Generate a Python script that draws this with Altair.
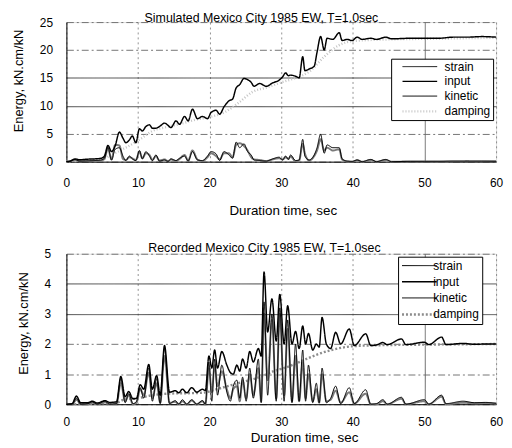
import altair as alt
import pandas as pd

FONT = "Liberation Sans"
SERIES = ["strain", "input", "kinetic", "damping"]

# ---------------- Top panel: Simulated record ----------------
top_t = [0, 0.5, 1.2, 1.8, 3.0, 4.0, 4.8, 5.3, 5.8, 6.3,
         6.8, 7.4, 7.9, 8.3, 8.8, 9.2, 9.7, 10.2, 10.6, 11.1,
         11.6, 12.0, 12.5, 13.0, 13.7, 14.2, 14.6, 15.3, 15.8, 16.5,
         17.0, 17.6, 18.3, 19.0, 19.7, 20.2, 20.9, 21.4, 22.0, 22.7,
         23.2, 23.7, 24.2, 24.8, 25.3, 25.8, 26.2, 27.0, 27.9, 28.8,
         29.7, 30.2, 30.6, 31.0, 31.3, 32.0, 32.5, 33.0, 33.3, 33.9,
         34.6, 35.0, 35.5, 36.0, 36.4, 37.2, 38.1, 38.5, 39.2, 39.9,
         40.6, 41.3, 42.5, 43.3, 44.6, 45.4, 48.0, 50.0, 52.0, 54.0,
         56.0, 58.0, 60.0]
top_input = [0, 0.1, 0.5, 0.35, 0.45, 0.5, 0.6, 1.0, 2.9, 1.8,
             2.8, 5.3, 4.2, 3.4, 3.9, 4.6, 3.4, 5.9, 5.5, 6.3,
             6.6, 6.0, 6.0, 6.3, 6.9, 6.5, 6.1, 7.3, 6.7, 8.1,
             7.3, 9.4, 7.7, 8.1, 7.7, 8.8, 9.2, 8.5, 9.8, 10.9,
             11.2, 13.2, 13.8, 14.9, 14.7, 14.2, 13.5, 14.0, 13.5, 14.1,
             14.6, 15.2, 15.9, 15.4, 15.5, 15.3, 15.0, 18.8, 16.3, 16.6,
             17.1, 19.6, 22.4, 20.0, 22.1, 21.9, 23.1, 21.7, 21.9, 21.7,
             22.3, 21.9, 22.1, 21.9, 22.3, 22.0, 22.1, 22.1, 22.1, 22.3,
             22.3, 22.4, 22.3]
top_strain = [0, 0.05, 0.4, 0.1, 0.15, 0.2, 0.3, 0.6, 2.6, 0.3,
              2.2, 2.5, 1.0, 0.2, 1.0, 0.5, 0.2, 2.0, 0.5, 1.8,
              1.0, 0.2, 1.2, 0.1, 0.3, 0.05, 0.5, 0.2, 0.6, 1.0,
              0.1, 1.8, 0.3, 0.2, 1.0, 1.8, 1.4, 0.2, 1.8, 1.2,
              0.6, 3.5, 2.5, 3.2, 1.8, 1.2, 0.3, 0.2, 0.1, 0.5,
              0.8, 0.3, 1.0, 0.4, 1.2, 0.2, 0.3, 4.0, 1.0, 0.3,
              1.2, 2.5, 4.9, 1.5, 3.0, 2.5, 2.5, 0.5, 0.1, 0.05,
              0.3, 0, 0.4, 0, 0.4, 0, 0.05, 0.05, 0.05, 0.1,
              0.1, 0.1, 0.08]
top_kinetic = [0, 0.05, 0.3, 0.1, 0.1, 0.15, 0.2, 0.5, 2.3, 0.4,
               3.0, 2.9, 0.5, 0.3, 0.8, 0.6, 0.3, 1.8, 0.6, 1.5,
               1.2, 0.3, 1.0, 0.2, 0.4, 0.1, 0.4, 0.1, 0.5, 1.2,
               0.2, 2.0, 0.4, 0.1, 0.8, 1.5, 1.0, 0.4, 1.5, 1.5,
               0.8, 3.0, 3.3, 2.8, 2.0, 0.8, 0.4, 0.3, 0.1, 0.4,
               0.6, 0.4, 0.8, 0.5, 0.9, 0.1, 0.2, 3.2, 1.5, 0.2,
               1.0, 2.0, 4.0, 2.0, 2.5, 2.0, 2.2, 0.4, 0.05, 0,
               0.25, 0, 0.3, 0, 0.3, 0, 0.03, 0.04, 0.03, 0.05,
               0.06, 0.05, 0.05]
top_damp_t = [0, 2, 5, 6, 7.5, 9, 10.5, 12, 14, 16, 18, 20, 22, 24, 26,
              28, 30, 32, 34, 36, 38, 40, 45, 50, 60]
top_damp = [0, 0.2, 0.4, 1.0, 2.0, 3.0, 4.2, 5.5, 6.2, 6.8, 7.5, 8.0, 8.8,
            10.5, 12.5, 13.3, 14.2, 15.0, 16.2, 18.8, 20.8, 21.6, 21.9,
            22.0, 22.2]

# ---------------- Bottom panel: Recorded record ----------------
bot_t = [0, 0.8, 1.4, 2.0, 3.0, 3.6, 4.3, 5.4, 6.0, 7.0,
         7.6, 8.2, 8.7, 9.3, 9.8, 10.3, 10.8, 11.5, 12.0, 12.6,
         13.1, 13.7, 14.4, 15.2, 15.7, 16.2, 16.8, 17.5, 18.2, 19.0,
         19.4, 19.9, 20.3, 20.7, 21.1, 21.7, 22.4, 22.9, 23.3, 23.8,
         24.2, 24.6, 25.1, 25.6, 26.1, 26.8, 27.2, 27.6, 28.1, 28.7,
         29.3, 29.8, 30.4, 30.9, 31.5, 32.0, 32.5, 33.0, 33.4, 33.8,
         34.4, 34.9, 35.3, 35.7, 36.3, 36.9, 37.6, 38.3, 39.5, 40.2,
         41.8, 42.5, 43.3, 44.2, 44.8, 46.8, 47.4, 50.0, 50.6, 52.4,
         53.0, 55.4, 57.0, 58.5, 60.0]
bot_input = [0, 0.02, 0.27, 0.05, 0.05, 0.1, 0.04, 0.12, 0.06, 0.08,
             0.92, 0.25, 0.42, 0.18, 0.2, 0.65, 0.5, 1.32, 0.5, 0.95,
             0.3, 1.95, 0.4, 0.45, 0.38, 0.5, 0.38, 0.55, 0.4, 0.5,
             0.45, 1.6, 1.2, 1.8, 1.2, 1.75, 1.3, 1.05, 1.0, 1.3,
             1.1, 1.5, 1.2, 1.75, 1.4, 1.85, 1.6, 4.39, 2.4, 3.5,
             2.1, 3.65, 2.0, 3.27, 2.0, 2.42, 1.85, 2.6, 2.0, 2.35,
             1.8, 2.0, 1.9, 2.88, 2.0, 1.85, 2.39, 2.0, 2.5, 1.95,
             2.34, 1.95, 1.97, 2.05, 1.98, 2.17, 1.98, 2.06, 1.98, 2.23,
             1.98, 2.02, 1.99, 2.0, 2.0]
bot_strain = [0, 0, 0.2, 0, 0.02, 0.08, 0, 0.1, 0, 0.02,
              0.85, 0.05, 0.35, 0.02, 0.1, 0.55, 0.2, 1.2, 0.1, 0.85,
              0.02, 1.85, 0.02, 0.12, 0, 0.15, 0, 0.15, 0, 0.12,
              0, 1.4, 0.1, 1.5, 0.3, 1.3, 0.4, 0.1, 0.6, 0.8,
              0.2, 0.9, 0.1, 1.2, 0.2, 1.5, 0.05, 3.4, 0.3, 3.0,
              0.1, 3.2, 0.1, 2.8, 0.05, 2.0, 0.1, 1.8, 0.1, 1.3,
              0.05, 0.7, 0.05, 1.2, 0.05, 0.2, 0.6, 0.02, 0.55, 0.02,
              0.48, 0, 0.02, 0.15, 0, 0.23, 0, 0.15, 0, 0.3,
              0.02, 0.1, 0.05, 0.06, 0.03]
bot_kinetic = [0, 0, 0.15, 0, 0, 0.05, 0, 0.06, 0, 0.02,
               0.7, 0.1, 0.3, 0, 0.05, 0.5, 0.3, 1.05, 0.2, 0.7,
               0.05, 1.6, 0.05, 0.08, 0, 0.1, 0, 0.12, 0, 0.1,
               0, 1.2, 0.4, 1.3, 0.6, 1.1, 0.5, 0.2, 0.5, 0.6,
               0.1, 0.8, 0.2, 1.0, 0.3, 1.2, 0.1, 3.0, 0.8, 2.8,
               0.2, 3.0, 0.3, 2.5, 0.1, 1.6, 0.1, 1.4, 0.2, 1.0,
               0.1, 0.5, 0.05, 1.0, 0.1, 0.15, 0.45, 0.05, 0.4, 0.02,
               0.35, 0, 0, 0.1, 0, 0.18, 0, 0.1, 0, 0.25,
               0, 0.05, 0.03, 0.04, 0.02]
bot_damp_t = [0, 7, 8, 10, 12, 14, 19, 21, 24, 27, 29, 31, 33, 35, 37, 39,
              42, 50, 60]
bot_damp = [0, 0.05, 0.15, 0.2, 0.3, 0.35, 0.38, 0.5, 0.7, 0.9, 1.1, 1.25,
            1.45, 1.65, 1.8, 1.9, 1.95, 1.98, 2.0]

x_ticks = [0, 10, 20, 30, 40, 50, 60]
top_y_ticks = [0, 5, 10, 15, 20, 25]
bot_y_ticks = [0, 1, 2, 3, 4, 5]


def make_df(t, inp, strain, kin, dt, damp):
    frames = []
    for name, ts, vs in (("damping", dt, damp), ("kinetic", t, kin),
                         ("strain", t, strain), ("input", t, inp)):
        frames.append(pd.DataFrame({"t": ts, "E": vs, "series": name}))
    return pd.concat(frames, ignore_index=True)


def panel(df, title, title_dx, title_off, ymax, yticks, w, h, lg, damp_color,
          damp_dash, solid_test, x_title_x, y_title_y, x_lab_pad, x_title_pad,
          y_lab_pad, y_title_pad):
    legend = alt.Legend(orient="none", legendX=lg["x"], legendY=lg["y"], title=None,
                        symbolType="M-1,0H6", symbolSize=100,
                        symbolOffset=lg["so"], labelOffset=lg["lo"],
                        labelFontSize=12, labelFont=FONT, labelColor="black",
                        padding=lg["pad"], rowPadding=lg["rp"],
                        strokeColor="black", fillColor="white")
    color = alt.Color("series:N", legend=legend,
                      scale=alt.Scale(domain=SERIES,
                                      range=["#000000", "#000000", "#7a7a7a", damp_color]))
    sw = alt.StrokeWidth("series:N", legend=legend,
                         scale=alt.Scale(domain=SERIES, range=[1.0, 2.4, 1.0, 1.0]))
    sd = alt.StrokeDash("series:N", legend=legend,
                        scale=alt.Scale(domain=SERIES,
                                        range=[[1, 0], [1, 0], [1, 0], damp_dash]))
    x = alt.X("t:Q", scale=alt.Scale(domain=[0, 60], nice=False, zero=False),
              axis=alt.Axis(values=x_ticks, title="Duration time, sec",
                            titleX=x_title_x, ticks=False, labelFlush=False,
                            labelPadding=x_lab_pad, titlePadding=x_title_pad,
                            labelFont=FONT, labelFontSize=12, labelColor="black",
                            titleFont=FONT, titleFontSize=13.5,
                            titleFontWeight="normal", titleColor="black",
                            domainColor="black", domainWidth=1,
                            gridColor={"condition": {"test": "datum.value == 50", "value": "#444444"}, "value": "#777777"},
                            gridDash={"condition": {"test": "datum.value == 50", "value": [1, 0]}, "value": [2, 3]},
                            gridWidth=0.8))
    y = alt.Y("E:Q", scale=alt.Scale(domain=[0, ymax], nice=False),
              axis=alt.Axis(values=yticks, title="Energy, kN.cm/kN",
                            titleY=y_title_y, ticks=False, minExtent=0,
                            labelPadding=y_lab_pad, titlePadding=y_title_pad,
                            labelFont=FONT, labelFontSize=12, labelColor="black",
                            titleFont=FONT, titleFontSize=13,
                            titleFontWeight="normal", titleColor="black",
                            domainColor="black", domainWidth=1,
                            gridColor={"condition": {"test": solid_test, "value": "#333333"}, "value": "#666666"},
                            gridDash={"condition": {"test": solid_test, "value": [1, 0]}, "value": [7, 3, 2, 3]},
                            gridWidth=0.9))
    base = alt.Chart(df).encode(x=x, y=y, color=color, strokeWidth=sw, strokeDash=sd)
    thin = base.transform_filter("datum.series != 'input'").mark_line(interpolate="monotone")
    thick = base.transform_filter("datum.series == 'input'").mark_line(interpolate="monotone")
    return alt.layer(thin, thick).properties(
        width=w, height=h,
        title=alt.TitleParams(title, font=FONT, fontSize=12.5, fontWeight="normal",
                              color="black", offset=title_off, dx=title_dx, anchor="middle"))


top_df = make_df(top_t, top_input, top_strain, top_kinetic, top_damp_t, top_damp)
bot_df = make_df(bot_t, bot_input, bot_strain, bot_kinetic, bot_damp_t, bot_damp)

top_legend = {"x": 328, "y": 37, "so": 8, "lo": 31, "pad": 2, "rp": 2.9}
bot_legend = {"x": 335, "y": 3, "so": -0.5, "lo": 20, "pad": 3, "rp": 4.3}

top = panel(top_df, "Simulated Mexico City 1985 EW, T=1.0sec", -20, -8, 25, top_y_ticks,
            434, 141, top_legend, "#c4c4c4", [1, 2],
            "datum.value == 10 || datum.value == 15", 218.5, 59,
            16, 15, 14, 13.5)
bottom = panel(bot_df, "Recorded Mexico City 1985 EW, T=1.0sec", -17, -7, 5, bot_y_ticks,
               434, 152, bot_legend, "#8c8c8c", [2, 2],
               "datum.value == 3 || datum.value == 4", 240, 70,
               12, 4, 16, 13.5)

chart = alt.concat(top, bottom, columns=1, spacing=25, align="none").resolve_scale(
    x="independent", y="independent", color="independent",
    strokeWidth="independent", strokeDash="independent"
).resolve_legend(
    color="independent", strokeWidth="independent", strokeDash="independent"
).properties(
    padding={"left": 4, "top": 1, "right": 0, "bottom": 0}
).configure_view(strokeWidth=0).configure(background="white")

chart.save("out.html", embed_options={"renderer": "svg", "actions": False})
